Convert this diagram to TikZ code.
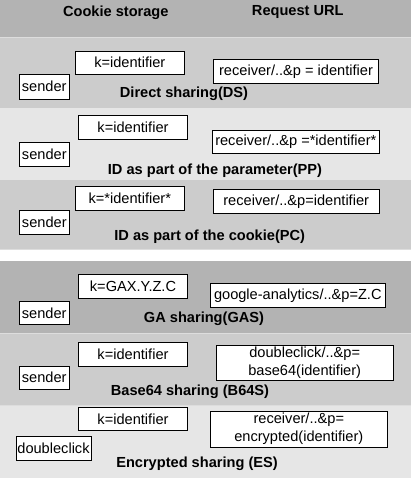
\documentclass[tikz,border=0pt]{standalone}
\usepackage{fontspec}
\setmainfont{Liberation Sans}
\definecolor{bandA}{HTML}{B3B3B3}
\definecolor{bandB}{HTML}{CCCCCC}
\definecolor{bandC}{HTML}{E6E6E6}
\definecolor{sepline}{HTML}{DDDDDD}
\tikzset{
  box/.style={draw=black, fill=white, line width=0.9pt, inner sep=0pt, align=center,
    font=\fontsize{14.6}{18}\selectfont},
  lbl/.style={inner sep=0pt, font=\fontsize{14.6}{18}\selectfont\bfseries},
}
\begin{document}
\begin{tikzpicture}[x=1pt, y=-1pt]
\useasboundingbox (0,0) rectangle (411,478);
% bands
\fill[bandA] (0,0) rectangle (411,37.7);
\fill[bandB] (0,37.7) rectangle (411,108);
\fill[bandC] (0,108) rectangle (411,180);
\fill[bandB] (0,180) rectangle (411,248.5);
\fill[white] (0,248.5) rectangle (411,260.7);
\fill[bandA] (0,260.7) rectangle (411,333.3);
\fill[bandB] (0,333.3) rectangle (411,405);
\fill[bandC] (0,405) rectangle (411,478);
\draw[sepline, line width=1pt] (0,37.7) -- (411,37.7);
\draw[sepline, line width=1pt] (0,249) -- (411,249);
\draw[sepline, line width=1pt] (0,333.3) -- (411,333.3);
\draw[sepline, line width=1pt] (0,405) -- (411,405);
% header
\node[lbl] (hcookie) at (115.8,12.3) {Cookie storage};
\node[lbl] (hurl) at (297.8,12.3) {Request URL};
% DS
\node[box, minimum width=109pt, minimum height=23pt] (dsk) at (129.8,62.5) {k=identifier};
\node[box, minimum width=165.4pt, minimum height=24pt] (dsr) at (296,71.3) {receiver/..\&p = identifier};
\node[box, minimum width=50.3pt, minimum height=25pt] (dss) at (44.2,86.5) {sender};
\node[lbl] (dsl) at (184,93.5) {Direct sharing(DS)};
% PP
\node[box, minimum width=109.4pt, minimum height=24.4pt] (ppk) at (133,127.5) {k=identifier};
\node[box, minimum width=166.3pt, minimum height=23.4pt] (ppr) at (295.8,142) {receiver/..\&p =*identifier*};
\node[box, minimum width=50.5pt, minimum height=24pt] (pps) at (44.3,154.5) {sender};
\node[lbl] (ppl) at (215,170.5) {ID as part of the parameter(PP)};
% PC
\node[box, minimum width=109pt, minimum height=24pt] (pck) at (129.8,198.3) {k=*identifier*};
\node[box, minimum width=165.7pt, minimum height=24pt] (pcr) at (296.2,201.7) {receiver/..\&p=identifier};
\node[box, minimum width=50.5pt, minimum height=23.3pt] (pcs) at (44.3,222.3) {sender};
\node[lbl] (pcl) at (209.7,237) {ID as part of the cookie(PC)};
% GAS
\node[box, minimum width=109.4pt, minimum height=24.3pt] (gak) at (133,286.2) {k=GAX.Y.Z.C};
\node[box, minimum width=175.7pt, minimum height=24pt] (gar) at (297.8,295.3) {google-analytics/..\&p=Z.C};
\node[box, minimum width=50.3pt, minimum height=22.6pt] (gas) at (44.2,313) {sender};
\node[lbl] (gal) at (204,319) {GA sharing(GAS)};
% B64S
\node[box, minimum width=109.4pt, minimum height=24pt] (bk) at (133,354.3) {k=identifier};
\node[box, minimum width=177.3pt, minimum height=35.7pt] (br) at (304.7,362.8) {doubleclick/..\&p=\\base64(identifier)};
\node[box, minimum width=50.3pt, minimum height=23pt] (bs) at (44.2,377.5) {sender};
\node[lbl] (bl) at (190,391.7) {Base64 sharing (B64S)};
% ES
\node[box, minimum width=109.4pt, minimum height=22.3pt] (ek) at (133,418.8) {k=identifier};
\node[box, minimum width=177.7pt, minimum height=36.3pt] (er) at (298.8,429.2) {receiver/..\&p=\\encrypted(identifier)};
\node[box, minimum width=75pt, minimum height=24.7pt] (es) at (53.5,448.3) {doubleclick};
\node[lbl] (el) at (197,463.3) {Encrypted sharing (ES)};
\end{tikzpicture}
\end{document}
